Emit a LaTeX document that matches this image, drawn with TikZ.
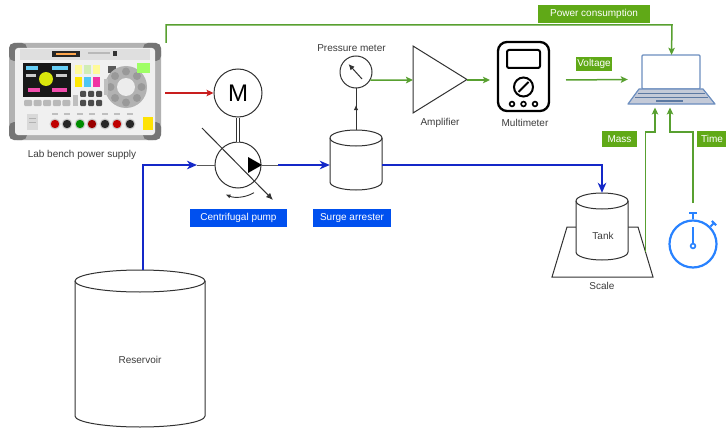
\documentclass[tikz,border=0pt]{standalone}
\usepackage{fontspec}
\setmainfont{Liberation Sans}
\usetikzlibrary{arrows.meta,calc,decorations.markings}
\definecolor{gline}{RGB}{88,160,48}
\definecolor{gfill}{RGB}{96,169,23}
\definecolor{bline}{RGB}{20,40,200}
\definecolor{bfill}{RGB}{0,80,239}
\definecolor{rline}{RGB}{200,30,30}
\definecolor{txtgray}{RGB}{60,60,60}
\definecolor{symgray}{RGB}{50,50,50}
\definecolor{lapblue}{RGB}{108,142,191}
\definecolor{lapfill}{RGB}{196,202,216}
\definecolor{swblue}{RGB}{40,130,255}

% vertical cylinder: centre x, top-ellipse centre y, x radius, side length, y radius
\newcommand\vcyl[5]{%
  \draw[sym,fill=white] (#1-#3,#2) -- (#1-#3,#2+#4)
    arc[start angle=180,end angle=360,x radius=#3pt,y radius=#5pt] -- (#1+#3,#2)
    arc[start angle=0,end angle=180,x radius=#3pt,y radius=#5pt] -- cycle;
  \draw[sym] (#1+#3,#2) arc[start angle=0,end angle=-180,x radius=#3pt,y radius=#5pt];}

\tikzset{
  lbl/.style={font=\fontsize{10}{12}\selectfont, text=txtgray, inner sep=0pt},
  gbox/.style={fill=gfill, text=white, font=\fontsize{10}{12}\selectfont, inner sep=0pt, minimum height=16pt},
  bbox/.style={fill=bfill, text=white, font=\fontsize{10}{12}\selectfont, inner sep=0pt, minimum height=18pt},
  gflow/.style={draw=gline, line width=1.5pt, -{Stealth[length=7pt,width=6.5pt,inset=1.5pt]}},
  rflow/.style={draw=rline, line width=1.5pt, -{Stealth[length=7pt,width=6.5pt,inset=1.5pt]}},
  bflow/.style={draw=bline, line width=2pt, -{Stealth[length=10pt,width=8.5pt,inset=3pt]}},
  pipe/.style={draw=gray!70!black, line width=1pt},
  sym/.style={draw=symgray, line width=1pt},
  midarrow/.style={decoration={markings, mark=at position 0.6 with {\arrow{Latex[length=5pt,width=4.5pt]}}}, postaction={decorate}},
}

\begin{document}
\begin{tikzpicture}[x=1pt,y=-1pt]
\useasboundingbox[fill=white] (0,0) rectangle (726,428);

% ---------- lab bench power supply ----------
\node[minimum width=154pt, minimum height=100pt, inner sep=0pt] (psu) at (85,91) {};
\fill[gray!60, rounded corners=8pt] (9,43) rectangle (161,140);
\foreach \cx/\cy in {9/43, 143/43, 9/122, 143/122}
  \fill[gray!45!black!70, rounded corners=5pt] (\cx,\cy) rectangle ++(18,18);
\fill[gray!12, rounded corners=3pt] (15,48) rectangle (155,135);
\fill[gray!25] (20,49) rectangle (150,60);
\fill[black!85] (52,51) rectangle (80,57);
\fill[orange!70] (56,53) rectangle (76,55);
\fill[gray!55] (88,52) rectangle (110,54);
\fill[black!80] (113,51) rectangle (117,56);
% display
\fill[black!90] (23,63) rectangle (71,97);
\fill[cyan!60] (26,66) rectangle (38,70);
\fill[cyan!60] (52,66) rectangle (68,70);
\fill[yellow!85!green] (46,79) circle[radius=7pt];
\fill[magenta!70] (28,88) rectangle (40,92);
\fill[magenta!70] (52,88) rectangle (67,92);
\fill[white!80!black] (26,74) rectangle (36,77);
\fill[white!80!black] (56,74) rectangle (67,77);
\foreach \k in {0,...,4}
  \fill[gray!55, rounded corners=1pt] (24+\k*9.6,100) rectangle ++(8,6);
% colour keys
\fill[yellow!40] (75,65) rectangle (82,74);
\fill[yellow!40!green!30] (84,65) rectangle (91,74);
\fill[yellow!40] (93,65) rectangle (100,74);
\fill[yellow!90!orange] (75,77) rectangle (82,87);
\fill[cyan!70] (84,77) rectangle (91,87);
\fill[magenta!80] (93,77) rectangle (100,87);
\foreach \i in {0,1,2} \foreach \j in {0,1}
  \fill[gray!60!black, rounded corners=1pt] (80+\i*8,91+\j*9) rectangle ++(6,6);
\fill[gray!70!black] (108,66) rectangle (116,73);
\fill[gray!50] (73,95) rectangle (78,106);
% navigation ring
\fill[gray!60] (126,87) circle[radius=21pt];
\foreach \a in {0,45,...,315}
  \fill[gray!80] (126,87) ++(\a:15.5pt) circle[radius=4pt];
\fill[gray!15] (126,87) circle[radius=9pt];
\fill[green!50!lime!60] (137,63) rectangle (150,73);
\fill[gray!50] (104,79) rectangle (108,95);
% output terminals
\foreach \x/\c in {55/red!75!black, 67/black!85, 80/green!55!black, 92/red!60!black, 105/black!85, 117/red!75!black, 130/black!85} {
  \fill[gray!40] (\x,124) circle[radius=5.5pt];
  \fill[\c] (\x,124) circle[radius=4.2pt];
  \fill[gray!50] (\x-3,113) rectangle ++(6,1.5);
}
\fill[gray!30] (27,114) rectangle (38,130);
\draw[gray!60] (29,118) -- (36,118) (29,122) -- (36,122);
\fill[yellow!85!orange] (143,117) rectangle (153,130);
\node[lbl] (psulbl) at (82,155) {Lab bench power supply};
\coordinate (psupwr) at (166,43);
\coordinate (psuout) at (165,93);

% ---------- pump ----------
\node[circle, sym, minimum size=48pt, inner sep=0pt, font=\fontsize{24}{26}\selectfont] (motor) at (238,93) {M};
\node[circle, sym, minimum size=46pt, inner sep=0pt] (pump) at (238,165) {};
\draw[symgray, line width=0.8pt, double=white, double distance=2.5pt] (motor.south) -- (pump.north);
\fill[black] (248,157) -- (262,165) -- (248,173) -- cycle;
\draw[sym, -{Latex[length=7pt,width=6pt]}] (202,128) -- (273,200);
\draw[sym, line width=0.9pt, -{Latex[length=5pt,width=4pt]}] (pump.center) ++(300:32pt)
  arc[start angle=300, end angle=247, radius=32pt];
\node[bbox, minimum width=97pt] (pumplbl) at (238.5,218) {Centrifugal pump};

% ---------- reservoir ----------
\vcyl{140}{281}{65}{135}{11}
\node[minimum width=130pt, minimum height=157pt, inner sep=0pt] (res) at (140,348.5) {};
\node[lbl] (reslbl) at (140,360) {Reservoir};

% ---------- surge arrester and pressure meter ----------
\vcyl{356}{138}{26}{44}{8}
\node[minimum width=52pt, minimum height=60pt, inner sep=0pt] (surge) at (356,160) {};
\node[bbox, minimum width=78pt] (surgelbl) at (352,218) {Surge arrester};
\node[circle, sym, minimum size=32pt, inner sep=0pt] (pm) at (356,72) {};
\draw[symgray, line width=1pt, -{Latex[length=6pt,width=5.5pt]}] (362,79) -- (348.5,64);
\node[lbl] (pmlbl) at (351.5,48) {Pressure meter};
\draw[sym, midarrow] (surge.north) -- (pm.south);

% ---------- amplifier ----------
\draw[sym] (413,46) -- (467,79.5) -- (413,113) -- cycle;
\coordinate (ampin) at (413,80);
\coordinate (ampout) at (467,80);
\node[lbl] (amplbl) at (440,123) {Amplifier};

% ---------- multimeter ----------
\node[minimum width=53pt, minimum height=71pt, inner sep=0pt] (mm) at (523.5,76) {};
\draw[black, line width=2.3pt, rounded corners=9pt] (498,42) rectangle (549,111);
\draw[black, line width=2pt, rounded corners=2pt] (507,50) rectangle (540,68);
\draw[black, line width=2pt] (523.5,87) circle[radius=9.5pt];
\draw[black, line width=2pt] (518.5,92) -- (528.5,82);
\foreach \x in {512,523.5,535}
  \draw[black, line width=1.6pt] (\x,104) circle[radius=2.4pt];
\node[lbl] (mmlbl) at (525,123) {Multimeter};
\coordinate (mmin) at (490,80);
\coordinate (mmout) at (566,80);

% ---------- laptop ----------
\node[minimum width=87pt, minimum height=49pt, inner sep=0pt] (lap) at (671.5,79.5) {};
\draw[lapblue, line width=1.2pt, fill=white, rounded corners=1pt] (642,55) rectangle (700,89);
\draw[lapblue, line width=1.2pt, fill=lapfill, line join=round] (639,89) -- (703,89) -- (715,104) -- (628,104) -- cycle;
\draw[lapblue!85!black, line width=1.1pt] (638,93.5) -- (705,93.5) (635,97.5) -- (708,97.5) (656,101) -- (683,101);
\coordinate (lapmass) at (655,107.5);
\coordinate (laptime) at (670,107.5);

% ---------- scale and tank ----------
\draw[sym] (567,227) -- (638,227) -- (653,277) -- (552,277) -- cycle;
\vcyl{602}{201}{26}{51}{8}
\node[minimum width=52pt, minimum height=67pt, inner sep=0pt] (tank) at (602,226.5) {};
\node[lbl] (tanklbl) at (603,236) {Tank};
\node[lbl] (scalelbl) at (602,286) {Scale};
\coordinate (scaleout) at (645.5,252);

% ---------- stopwatch ----------
\node[circle, draw=swblue, line width=2.2pt, minimum size=47pt, inner sep=0pt] (sw) at (693,244) {};
\draw[swblue, line width=2pt] (sw.north) -- (693,213) (689,212.5) -- (697,212.5);
\draw[swblue, line width=2pt] (sw.45) -- ++(45:5pt) ++(135:3pt) -- ++(-45:6pt);
\draw[swblue, line width=2pt] (693,227) -- (693,243);
\draw[swblue, line width=1.6pt, fill=white] (693,246) circle[radius=2.4pt];
\coordinate (swtop) at (693,203);

% ---------- water flow ----------
\coordinate (pin) at (197,165);
\coordinate (pout) at (278,165);
\draw[bflow] ([xshift=3pt]res.north) |- (pin);
\draw[pipe] (pin) -- (pump.west);
\draw[pipe] (pump.east) -- (pout);
\draw[bflow] (pout) -- (surge.west |- pout);
\draw[bflow] (surge.east |- pout) -| (tank.north);

% ---------- signals ----------
\draw[rflow] (psuout) -- (motor.west);
\draw[gflow] (psupwr) |- (672,25) -- (lap.north);
\node[gbox, minimum width=112pt, minimum height=18pt] (pclbl) at (594,14) {Power consumption};
\draw[gflow] (pm.-30) -- (ampin);
\draw[gflow] (ampout) -- (mmin);
\draw[gflow] (mmout) -- (lap.west);
\node[gbox, minimum width=36pt, minimum height=14pt] (vlbl) at (594,64) {Voltage};
\draw[gflow] (scaleout) |- (655,132) -- (lapmass);
\draw[gflow] (swtop) |- (670,132) -- (laptime);
\node[gbox, minimum width=35pt] (masslbl) at (619.5,139) {Mass};
\node[gbox, minimum width=30pt] (timelbl) at (712,139) {Time};
\end{tikzpicture}
\end{document}
